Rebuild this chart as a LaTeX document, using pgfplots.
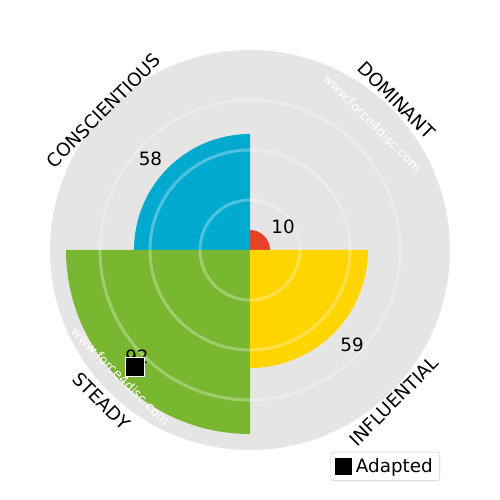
\documentclass[border=0pt]{standalone}
\usepackage{pgfplots}
\pgfplotsset{compat=1.18}
\usepackage{fontspec}
\setmainfont{DejaVu Sans}
\definecolor{discgray}{HTML}{E5E5E5}
\definecolor{cblue}{HTML}{02A9CF}
\definecolor{sgreen}{HTML}{78B72F}
\definecolor{iyellow}{HTML}{FFD500}
\definecolor{dred}{HTML}{E8412A}
\newcommand\lblfont{\fontsize{13.2}{15}\selectfont}
\begin{document}
\begin{tikzpicture}
\begin{axis}[
  width=360pt, height=360pt, scale only axis,
  xmin=-125, xmax=125, ymin=-125, ymax=125,
  axis lines=none, clip=false,
  legend style={at={(rel axis cs:0.88,0.038)}, anchor=south east,
    draw=black!20, rounded corners=2pt, fill=white,
    font=\lblfont, inner xsep=3pt, inner ysep=2.5pt},
  legend cell align=left,
]
\path (rel axis cs:0,0) rectangle (rel axis cs:1,1);
% background disc
\fill[discgray] (axis cs:0,0) circle[radius=100];
% sectors: D=10 (top right), I=59 (bottom right), S=92 (bottom left), C=58 (top left)
\fill[dred] (axis cs:0,0) -- (axis cs:10,0) arc[start angle=0, end angle=90, radius=10] -- cycle;
\fill[cblue] (axis cs:0,0) -- (axis cs:0,58) arc[start angle=90, end angle=180, radius=58] -- cycle;
\fill[sgreen] (axis cs:0,0) -- (axis cs:-92,0) arc[start angle=180, end angle=270, radius=92] -- cycle;
\fill[iyellow] (axis cs:0,0) -- (axis cs:0,-59) arc[start angle=270, end angle=360, radius=59] -- cycle;
% rings
\draw[white, opacity=0.3, line width=2.2pt] (axis cs:0,0) circle[radius=25];
\draw[white, opacity=0.3, line width=2.2pt] (axis cs:0,0) circle[radius=50];
\draw[white, opacity=0.3, line width=2.2pt] (axis cs:0,0) circle[radius=75];
% value labels
\node[font=\lblfont] at (axis cs:16.5,11.75) {10};
\node[font=\lblfont] at (axis cs:-49.75,45.75) {58};
\node[font=\lblfont] at (axis cs:51,-47.25) {59};
\node[font=\lblfont] at (axis cs:-56.5,-53.5) {92};
% category labels
\node[font=\lblfont, rotate=-45] at (axis cs:73.25,75) {DOMINANT};
\node[font=\lblfont, rotate=45] at (axis cs:-73.25,69.75) {CONSCIENTIOUS};
\node[font=\lblfont, rotate=45] at (axis cs:72,-75.5) {INFLUENTIAL};
\node[font=\lblfont, rotate=-45] at (axis cs:-74.25,-75.5) {STEADY};
% watermarks
\node[font=\fontsize{9.3}{11}\selectfont, text=white, rotate=-45] at (axis cs:61.25,63.5) {www.force4disc.com};
\node[font=\fontsize{9.3}{11}\selectfont, text=white, rotate=-45] at (axis cs:-64.75,-63.25) {www.force4disc.com};
% adapted marker
\addplot[only marks, mark=square*, mark size=7pt, mark options={fill=black, draw=white, line width=1pt}, forget plot]
  coordinates {(-57.5,-58.5)};
\addlegendimage{only marks, mark=square*, mark size=5.75pt, black}
\addlegendentry{\hspace{1.5pt}Adapted}
\end{axis}
\end{tikzpicture}
\end{document}
